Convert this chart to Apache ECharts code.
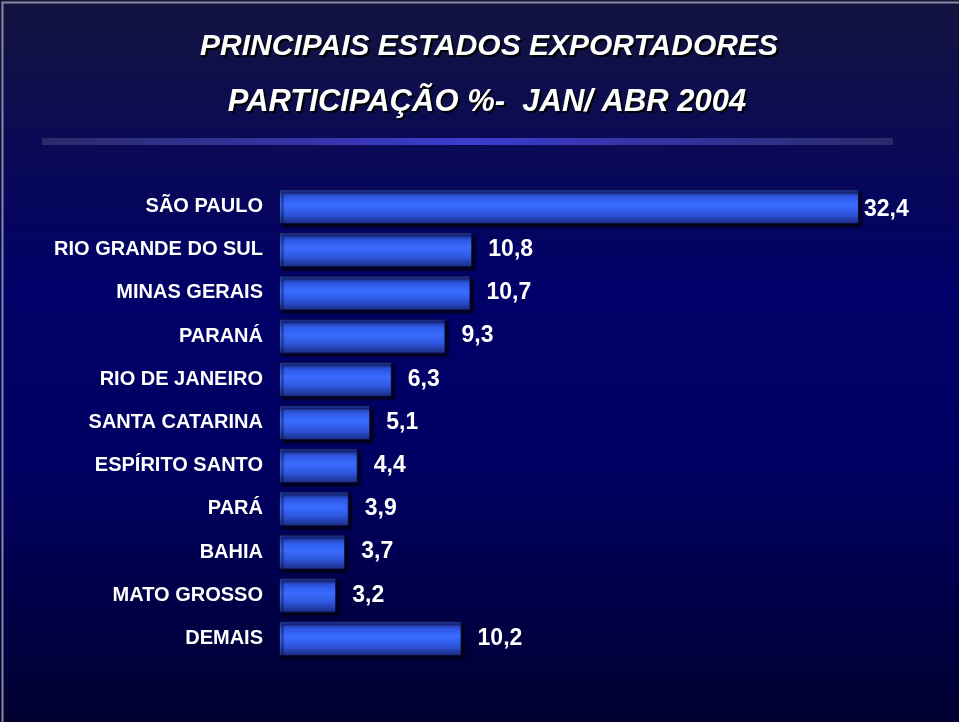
<!DOCTYPE html>
<html>
<head>
<meta charset="utf-8">
<script src="https://cdn.jsdelivr.net/npm/echarts@6/dist/echarts.min.js"></script>
<style>html,body{margin:0;padding:0;background:#000033;}#c{width:959px;height:722px;}</style>
</head>
<body>
<div id="c"></div>
<script>
const categories = ["SÃO PAULO","RIO GRANDE DO SUL","MINAS GERAIS","PARANÁ","RIO DE JANEIRO","SANTA CATARINA","ESPÍRITO SANTO","PARÁ","BAHIA","MATO GROSSO","DEMAIS"];
const values = [32.4,10.8,10.7,9.3,6.3,5.1,4.4,3.9,3.7,3.2,10.2];
const titleLine1 = "PRINCIPAIS ESTADOS EXPORTADORES";
const titleLine2 = "PARTICIPAÇÃO %-  JAN/ ABR 2004";

const chart = echarts.init(document.getElementById('c'), null, {renderer:'canvas'});
const barColor = new echarts.graphic.LinearGradient(0,0,0,1,[
  {offset:0,color:'#1a2a86'},
  {offset:0.25,color:'#2f5ae8'},
  {offset:0.45,color:'#3a6cff'},
  {offset:0.7,color:'#2f58e0'},
  {offset:1,color:'#1a2a80'}
]);
const data = values.map((v,i)=>({
  value:v,
  label: i===0 ? {distance:5, offset:[0,3]} : {}
}));
const FONT = '"Liberation Sans", Arial, sans-serif';
chart.setOption({
  backgroundColor: new echarts.graphic.LinearGradient(0,0,0,1,[
    {offset:0,color:'#141440'},
    {offset:0.2,color:'#0a0a55'},
    {offset:0.4,color:'#000068'},
    {offset:0.65,color:'#000062'},
    {offset:1,color:'#000030'}
  ]),
  graphic:[
    {type:'rect',left:0,top:0,shape:{x:0,y:0,width:958,height:721},style:{fill:'none',stroke:'#8a8a9a',lineWidth:2},silent:true},
    {type:'rect',shape:{x:42,y:138,width:851,height:7},style:{fill:new echarts.graphic.LinearGradient(0,0,1,0,[
      {offset:0,color:'#2a2a6a'},{offset:0.5,color:'#3c3cd0'},{offset:1,color:'#2a2a6a'}
    ])},silent:true},
    {type:'text',x:489,y:47,style:{text:titleLine1,fill:'#ffffff',font:'italic bold 30px '+FONT,align:'center',verticalAlign:'middle',textShadowColor:'#000000',textShadowOffsetX:2,textShadowOffsetY:2,textShadowBlur:1}},
    {type:'text',x:487,y:102,style:{text:titleLine2,fill:'#ffffff',font:'italic bold 31px '+FONT,align:'center',verticalAlign:'middle',textShadowColor:'#000000',textShadowOffsetX:2,textShadowOffsetY:2,textShadowBlur:1}}
  ],
  grid:{left:279,right:53.5,top:185,bottom:62,containLabel:false},
  xAxis:{type:'value',min:0,max:35,show:false},
  yAxis:{type:'category',data:categories,inverse:true,
    axisLine:{show:false},axisTick:{show:false},
    axisLabel:{color:'#ffffff',fontSize:20,fontWeight:'bold',fontFamily:FONT,margin:16}
  },
  series:[{
    type:'bar',data:data,barWidth:35,
    itemStyle:{color:barColor,borderColor:'#0a0a3a',borderWidth:1,shadowColor:'rgba(0,0,20,0.9)',shadowOffsetX:3,shadowOffsetY:3,shadowBlur:2},
    label:{show:true,position:'right',distance:16,color:'#ffffff',fontSize:23,fontWeight:'bold',fontFamily:FONT,
      formatter:p=>String(p.value).replace('.',',')},
    animation:false
  }],
  animation:false
});
</script>
</body>
</html>
